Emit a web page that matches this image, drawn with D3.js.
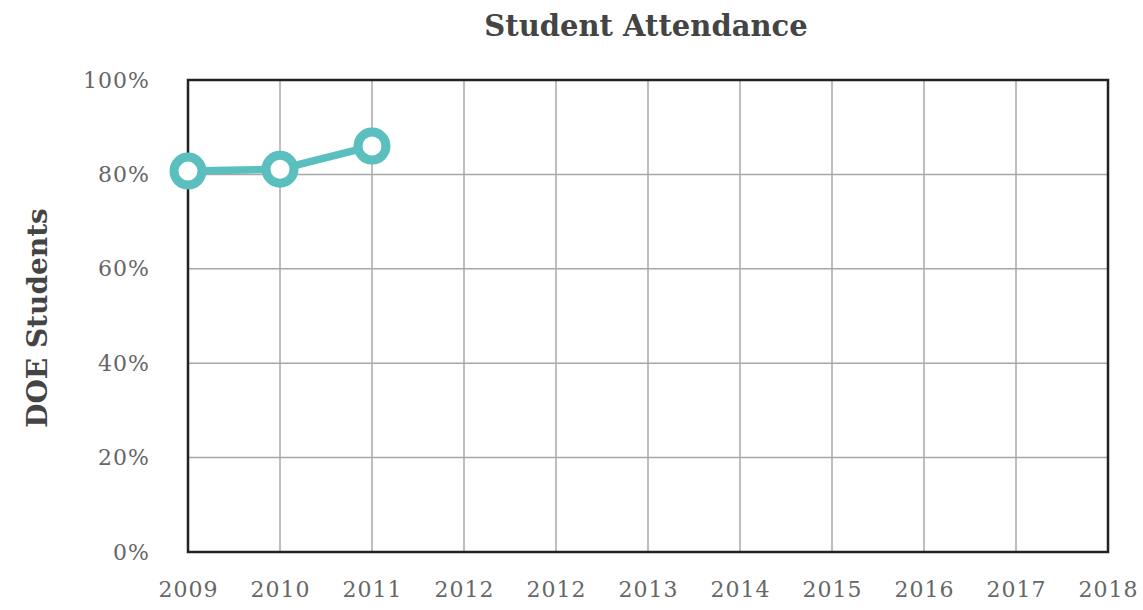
<!DOCTYPE html>
<html>
<head>
<meta charset="utf-8">
<script src="https://cdn.jsdelivr.net/npm/d3@7"></script>
<style>
  body { margin: 0; background: #fff; }
  text { font-family: Georgia, "DejaVu Serif", serif; }
</style>
</head>
<body>
<div id="chart"></div>
<script>
const MARGIN = { LEFT: 188, RIGHT: 35, TOP: 80, BOTTOM: 58 };
const WIDTH = 1143 - MARGIN.LEFT - MARGIN.RIGHT;
const HEIGHT = 610 - MARGIN.TOP - MARGIN.BOTTOM;

// data
const yearLabels = ["2009", "2010", "2011", "2012", "2012", "2013", "2014", "2015", "2016", "2017", "2018"];
const attendance = [0.807, 0.811, 0.860];
const yTicks = [0, 0.2, 0.4, 0.6, 0.8, 1.0];

const svg = d3.select("#chart").append("svg")
  .attr("width", 1143)
  .attr("height", 610);

const g = svg.append("g")
  .attr("transform", `translate(${MARGIN.LEFT}, ${MARGIN.TOP})`);

// scales (index based, labels repeat)
const x = d3.scalePoint().domain(d3.range(yearLabels.length)).range([0, WIDTH]);
const y = d3.scaleLinear().domain([0, 1]).range([HEIGHT, 0]);

// grid
g.append("g")
  .selectAll("line")
  .data(d3.range(yearLabels.length))
  .join("line")
  .attr("x1", d => x(d)).attr("x2", d => x(d))
  .attr("y1", 0).attr("y2", HEIGHT)
  .attr("stroke", "#a8a8a8")
  .attr("stroke-width", 1.5);

g.append("g")
  .selectAll("line")
  .data(yTicks)
  .join("line")
  .attr("x1", 0).attr("x2", WIDTH)
  .attr("y1", d => y(d)).attr("y2", d => y(d))
  .attr("stroke", "#a8a8a8")
  .attr("stroke-width", 1.5);

// frame
g.append("rect")
  .attr("width", WIDTH)
  .attr("height", HEIGHT)
  .attr("fill", "none")
  .attr("stroke", "#222")
  .attr("stroke-width", 2.5);

// axes
const xAxis = g.append("g")
  .attr("transform", `translate(0, ${HEIGHT})`)
  .call(d3.axisBottom(x).tickSize(0).tickPadding(29).tickFormat(i => yearLabels[i]));
const yAxis = g.append("g")
  .call(d3.axisLeft(y).tickValues(yTicks).tickSize(0).tickPadding(38).tickFormat(d3.format(".0%")));

[xAxis, yAxis].forEach(a => {
  a.select(".domain").remove();
  a.selectAll("text")
    .attr("font-family", 'Georgia, "DejaVu Serif", serif')
    .attr("font-size", "22px")
    .attr("letter-spacing", "1px")
    .attr("fill", "#666");
});

// line
const line = d3.line()
  .x((d, i) => x(i))
  .y(d => y(d));

g.append("path")
  .datum(attendance)
  .attr("fill", "none")
  .attr("stroke", "#5bbfbf")
  .attr("stroke-width", 7.5)
  .attr("d", line);

g.selectAll("circle")
  .data(attendance)
  .join("circle")
  .attr("cx", (d, i) => x(i))
  .attr("cy", d => y(d))
  .attr("r", 14)
  .attr("fill", "#fff")
  .attr("stroke", "#5bbfbf")
  .attr("stroke-width", 9);

// titles
svg.append("text")
  .attr("x", 646)
  .attr("y", 36)
  .attr("text-anchor", "middle")
  .attr("font-size", "29px")
  .attr("font-weight", "bold")
  .attr("fill", "#444")
  .text("Student Attendance");

svg.append("text")
  .attr("transform", "rotate(-90)")
  .attr("x", -318)
  .attr("y", 47)
  .attr("text-anchor", "middle")
  .attr("font-size", "28px")
  .attr("font-weight", "bold")
  .attr("fill", "#444")
  .text("DOE Students");
</script>
</body>
</html>
